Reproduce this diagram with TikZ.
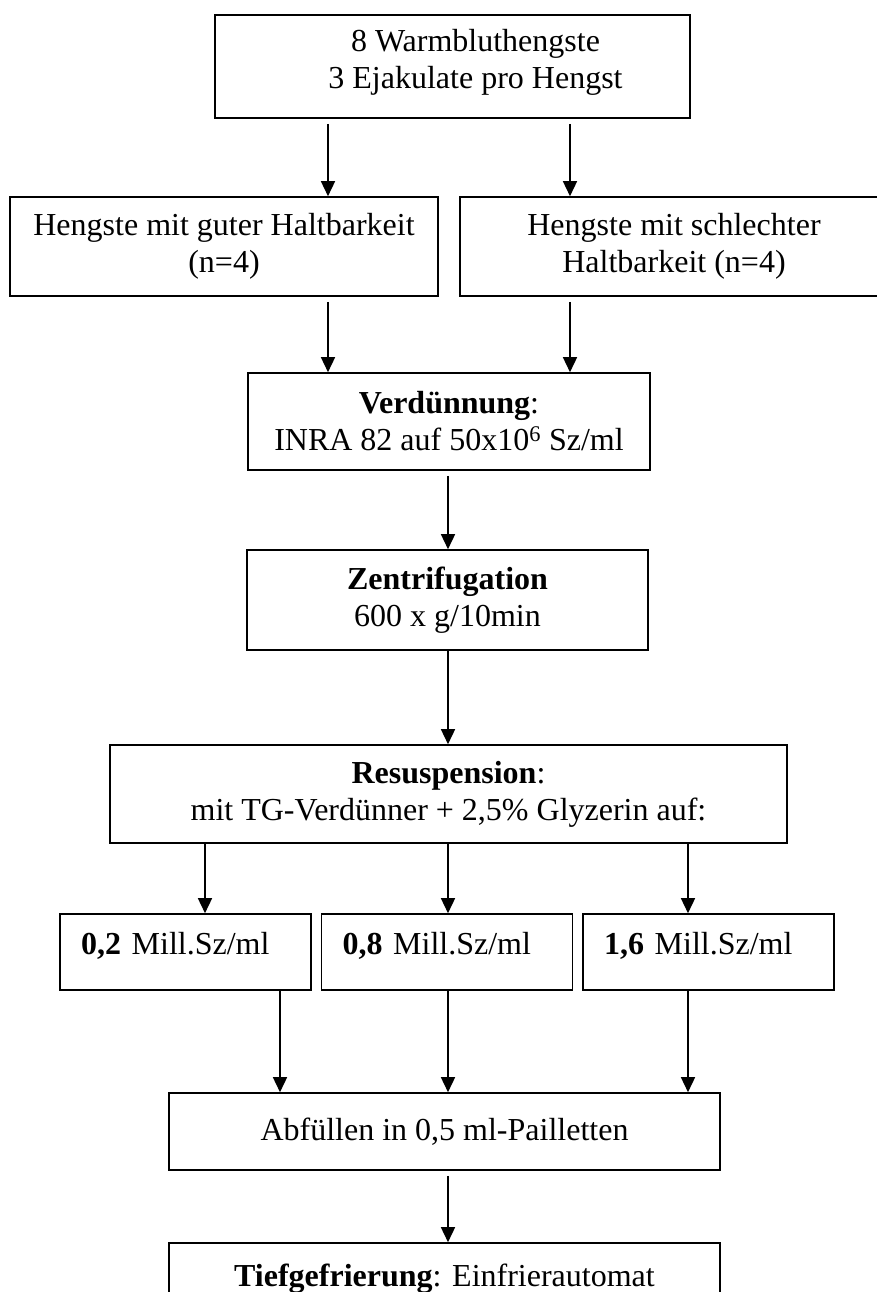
\documentclass[tikz,border=0pt]{standalone}
\usepackage{fontspec}
\setmainfont{Liberation Serif}
\usetikzlibrary{arrows.meta}
\tikzset{box/.style={draw, line width=1.6pt, align=center, inner sep=0pt, font=\fontsize{32}{37}\selectfont}}
\tikzset{txt/.style={align=center, inner sep=0pt, font=\fontsize{32}{37}\selectfont}}
\tikzset{conc/.style={box, minimum width=251pt, minimum height=76pt, text width=209pt, align=left, text depth=17pt}}
\tikzset{arr/.style={-{Triangle[width=14pt,length=15pt]}, line width=1.5pt, shorten <=5pt}}

\begin{document}
\begin{tikzpicture}[x=1pt, y=-1pt]
\useasboundingbox (0,0) rectangle (877,1292);
\clip (0,0) rectangle (877,1292);
\fill[white] (0,0) rectangle (877,1292);
% columns of the arrows
\coordinate (colA) at (328,0); \coordinate (colB) at (570,0);
\coordinate (colM) at (448,0);
\coordinate (colL) at (205,0); \coordinate (colR) at (688,0);
\coordinate (colL2) at (280,0);
% stallions
\node[box, minimum width=475pt, minimum height=103pt, label={[txt,xshift=23pt,yshift=4pt]center:8 Warmbluthengste\\3 Ejakulate pro Hengst}] (horses) at (452.5,66.5) {};
\node[box, minimum width=428pt, minimum height=99pt] (good) at (224,246.5) {Hengste mit guter Haltbarkeit\\(n=4)};
\node[box, minimum width=428pt, minimum height=99pt] (bad) at (674,246.5) {Hengste mit schlechter\\Haltbarkeit (n=4)};
\draw[arr] (horses.south -| colA) -- (good.north -| colA);
\draw[arr] (horses.south -| colB) -- (bad.north -| colB);
% dilution and centrifugation
\node[box, minimum width=402pt, minimum height=97pt] (dilute) at (449,421.5) {\textbf{Verdünnung}:\\INRA 82 auf 50x10\textsuperscript{6} Sz/ml};
\draw[arr] (good.south -| colA) -- (dilute.north -| colA);
\draw[arr] (bad.south -| colB) -- (dilute.north -| colB);
\node[box, minimum width=401pt, minimum height=100pt] (centri) at (447.5,600) {\textbf{Zentrifugation}\\600 x g/10min};
\draw[arr] (dilute.south -| colM) -- (centri.north -| colM);
\node[box, minimum width=677pt, minimum height=98pt] (resusp) at (448.5,794) {\textbf{Resuspension}:\\mit TG-Verdünner + 2,5\% Glyzerin auf:};
\draw[arr, shorten <=0pt] (centri.south -| colM) -- (resusp.north -| colM);
% concentrations
\node[conc] (low) at (185.5,952) {\textbf{0,2} Mill.Sz/ml};
\node[conc] (mid) at (447,952) {\textbf{0,8} Mill.Sz/ml};
\node[conc] (high) at (708.5,952) {\textbf{1,6} Mill.Sz/ml};
\draw[arr, shorten <=0pt] (resusp.south -| colL) -- (low.north -| colL);
\draw[arr, shorten <=0pt] (resusp.south -| colM) -- (mid.north -| colM);
\draw[arr, shorten <=0pt] (resusp.south -| colR) -- (high.north -| colR);
% filling and freezing
\node[box, minimum width=551pt, minimum height=77pt] (straws) at (444.5,1131.5) {Abfüllen in 0,5 ml-Pailletten};
\draw[arr, shorten <=0pt] (low.south -| colL2) -- (straws.north -| colL2);
\draw[arr, shorten <=0pt] (mid.south -| colM) -- (straws.north -| colM);
\draw[arr, shorten <=0pt] (high.south -| colR) -- (straws.north -| colR);
\node[box, minimum width=551pt, minimum height=72pt] (freeze) at (444.5,1279) {\textbf{Tiefgefrierung}: Einfrierautomat};
\draw[arr] (straws.south -| colM) -- (freeze.north -| colM);
\end{tikzpicture}
\end{document}
